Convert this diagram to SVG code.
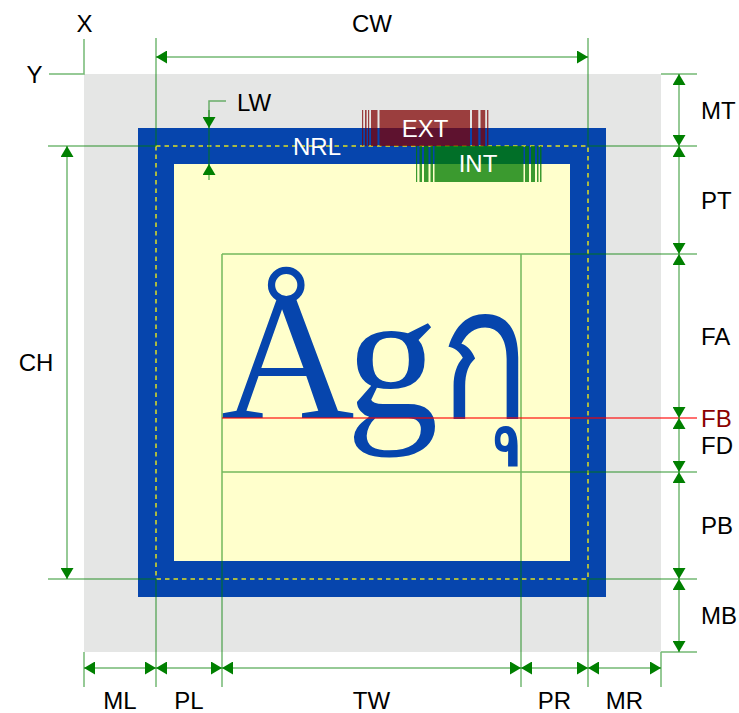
<svg xmlns="http://www.w3.org/2000/svg" width="739" height="713" viewBox="0 0 739 713">
<defs>
<style>
.dim{stroke:#008000;stroke-opacity:0.55;stroke-width:1.5;fill:none}
.lab{font-family:"Liberation Sans",Arial,sans-serif;font-size:24px;fill:#000}
.mid{text-anchor:middle}
.wh{font-family:"Liberation Sans",Arial,sans-serif;font-size:24px;fill:#fff;text-anchor:middle}
.ext{fill:#800000;fill-opacity:0.73}
.int{fill:#007b00;fill-opacity:0.77}
.big{font-family:"Liberation Serif","Times New Roman",serif;font-size:185px;fill:#0645ad}
</style>
<marker id="ah" viewBox="0 0 11 13" refX="11" refY="6.5" markerWidth="11" markerHeight="13" markerUnits="userSpaceOnUse" orient="auto-start-reverse">
<path d="M0,0L11,6.5L0,13z" fill="#008000"/>
</marker>
</defs>
<rect width="739" height="713" fill="#fff"/>
<g id="margin"><rect x="84" y="74" width="577" height="578" fill="#e5e6e5"/></g>
<g id="border">
<rect x="156" y="146" width="432" height="433" fill="#ffffcc" stroke="#0645ad" stroke-width="36"/>
<rect x="156" y="146" width="432" height="433" fill="none" stroke="#e0e020" stroke-width="1.5" stroke-dasharray="4.5,4"/>
</g>
<g id="textbox">
<text class="big" x="221" y="418"><tspan x="221">Å</tspan><tspan x="346">g</tspan></text>
<text class="big" transform="translate(440,418) scale(0.8,1)" x="0" y="0">กุ</text>
</g>
<g id="ext">
<rect class="ext" x="362" y="110" width="1.2" height="36"/>
<rect class="ext" x="365" y="110" width="1.6" height="36"/>
<rect class="ext" x="368" y="110" width="1.2" height="36"/>
<rect class="ext" x="371" y="110" width="6.5" height="36"/>
<rect class="ext" x="379.5" y="110" width="90.5" height="36"/>
<rect class="ext" x="472" y="110" width="6.3" height="36"/>
<rect class="ext" x="480.5" y="110" width="4.7" height="36"/>
<rect class="ext" x="487" y="110" width="1.4" height="36"/>
<text class="wh" x="425" y="137">EXT</text>
</g>
<g id="int">
<rect class="int" x="416" y="146" width="1.2" height="36"/>
<rect class="int" x="419.5" y="146" width="2.5" height="36"/>
<rect class="int" x="424" y="146" width="4.5" height="36"/>
<rect class="int" x="430.5" y="146" width="2.5" height="36"/>
<rect class="int" x="434.5" y="146" width="89" height="36"/>
<rect class="int" x="525" y="146" width="4" height="36"/>
<rect class="int" x="531" y="146" width="4" height="36"/>
<rect class="int" x="537" y="146" width="1.5" height="36"/>
<rect class="int" x="540" y="146" width="1.5" height="36"/>
<text class="wh" x="478" y="172">INT</text>
</g>
<g id="nrl"><text class="wh" x="317" y="155">NRL</text></g>
<g id="connectors">
<path class="dim" d="M49,74H84V39"/>
<path class="dim" d="M156,38V146M156,579V687M588,38V146M588,579V687"/>
<path class="dim" d="M48,146H156M588,146H697M48,579H156M588,579H697"/>
<path class="dim" d="M661,74H697M661,652H697M84,652V687M661,652V687"/>
<path class="dim" d="M222,254H697M222,472H697M222,254V687M521,254V687"/>
<line x1="222" y1="418" x2="697" y2="418" stroke="#ff0000" stroke-opacity="0.75" stroke-width="1.5"/>
<line class="dim" x1="156" y1="57" x2="588" y2="57" marker-start="url(#ah)" marker-end="url(#ah)"/>
<line class="dim" x1="67" y1="146" x2="67" y2="579" marker-start="url(#ah)" marker-end="url(#ah)"/>
<path class="dim" d="M226,101H209V175"/>
<line class="dim" x1="209" y1="110" x2="209" y2="128" marker-end="url(#ah)"/>
<line class="dim" x1="209" y1="180" x2="209" y2="164" marker-end="url(#ah)"/>
<line class="dim" x1="679" y1="74" x2="679" y2="146" marker-start="url(#ah)" marker-end="url(#ah)"/>
<line class="dim" x1="679" y1="146" x2="679" y2="254" marker-start="url(#ah)" marker-end="url(#ah)"/>
<line class="dim" x1="679" y1="254" x2="679" y2="418" marker-start="url(#ah)" marker-end="url(#ah)"/>
<line class="dim" x1="679" y1="418" x2="679" y2="472" marker-start="url(#ah)" marker-end="url(#ah)"/>
<line class="dim" x1="679" y1="472" x2="679" y2="579" marker-start="url(#ah)" marker-end="url(#ah)"/>
<line class="dim" x1="679" y1="579" x2="679" y2="652" marker-start="url(#ah)" marker-end="url(#ah)"/>
<line class="dim" x1="84" y1="668" x2="156" y2="668" marker-start="url(#ah)" marker-end="url(#ah)"/>
<line class="dim" x1="156" y1="668" x2="222" y2="668" marker-start="url(#ah)" marker-end="url(#ah)"/>
<line class="dim" x1="222" y1="668" x2="521" y2="668" marker-start="url(#ah)" marker-end="url(#ah)"/>
<line class="dim" x1="521" y1="668" x2="588" y2="668" marker-start="url(#ah)" marker-end="url(#ah)"/>
<line class="dim" x1="588" y1="668" x2="661" y2="668" marker-start="url(#ah)" marker-end="url(#ah)"/>
</g>
<g id="labels">
<text class="lab mid" x="84.5" y="32">X</text>
<text class="lab mid" x="34.5" y="83">Y</text>
<text class="lab mid" x="372" y="32">CW</text>
<text class="lab" x="237" y="111">LW</text>
<text class="lab mid" x="36" y="371">CH</text>
<text class="lab" x="701" y="119">MT</text>
<text class="lab" x="701" y="208.5">PT</text>
<text class="lab" x="701" y="344.5">FA</text>
<text class="lab" x="701" y="427" style="fill:#8b0000">FB</text>
<text class="lab" x="701" y="454">FD</text>
<text class="lab" x="701" y="534">PB</text>
<text class="lab" x="701" y="624">MB</text>
<text class="lab mid" x="120" y="709">ML</text>
<text class="lab mid" x="189" y="709">PL</text>
<text class="lab mid" x="371.5" y="709">TW</text>
<text class="lab mid" x="554.5" y="709">PR</text>
<text class="lab mid" x="624.5" y="709">MR</text>
</g>
</svg>
